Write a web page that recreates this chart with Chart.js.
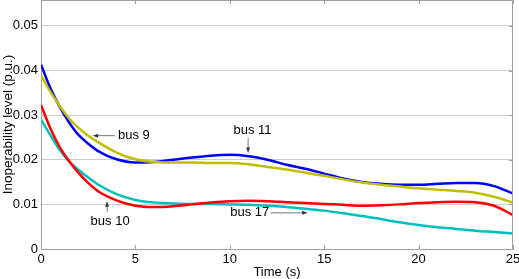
<!DOCTYPE html>
<html>
<head>
<meta charset="utf-8">
<script src="https://cdn.jsdelivr.net/npm/chart.js@4.4.1/dist/chart.umd.min.js"></script>
<style>
html,body{margin:0;padding:0;background:#fff;}
#wrap{width:519px;height:279px;position:relative;}
</style>
</head>
<body>
<div id="wrap"><canvas id="c" width="519" height="279"></canvas></div>
<script>
const time = [0, 0.5, 1, 1.5, 2, 2.5, 3, 4, 5, 6, 7, 8, 9, 10, 11, 12, 13, 14, 15, 16, 17, 18, 19, 20, 21, 22, 23, 24, 25];
const bus9  = [0.0389, 0.0352, 0.0320, 0.0292, 0.0271, 0.0254, 0.0240, 0.0216, 0.0201, 0.0195, 0.0194, 0.0194, 0.0193, 0.0193, 0.0190, 0.0184, 0.0178, 0.0171, 0.0164, 0.0156, 0.0149, 0.0144, 0.0140, 0.0136, 0.0133, 0.0130, 0.0126, 0.0117, 0.0104];
const bus11 = [0.0413, 0.0360, 0.0318, 0.0283, 0.0255, 0.0236, 0.0220, 0.0201, 0.0194, 0.0195, 0.0200, 0.0205, 0.0209, 0.0211, 0.0208, 0.0200, 0.0189, 0.0180, 0.0169, 0.0158, 0.0150, 0.0146, 0.0144, 0.0144, 0.0146, 0.0148, 0.0148, 0.0141, 0.0124];
const bus10 = [0.0323, 0.0270, 0.0228, 0.0196, 0.0170, 0.0148, 0.0130, 0.0109, 0.0097, 0.0094, 0.0096, 0.0100, 0.0104, 0.0107, 0.0108, 0.0107, 0.0105, 0.0103, 0.0101, 0.0099, 0.0097, 0.0098, 0.0100, 0.0103, 0.0105, 0.0106, 0.0105, 0.0097, 0.0076];
const bus17 = [0.0290, 0.0255, 0.0222, 0.0196, 0.0177, 0.0160, 0.0145, 0.0123, 0.0110, 0.0104, 0.0102, 0.0101, 0.0101, 0.0100, 0.0099, 0.0097, 0.0094, 0.0090, 0.0086, 0.0080, 0.0074, 0.0067, 0.0060, 0.0054, 0.0049, 0.0045, 0.0041, 0.0038, 0.0035];
const yTicks = [0, 0.01, 0.02, 0.03, 0.04, 0.05];
const yTickLabels = ["0", "0.01", "0.02", "0.03", "0.04", "0.05"];
const xTicks = [0, 5, 10, 15, 20, 25];
const xTickLabels = ["0", "5", "10", "15", "20", "25"];
const annotations = [
  {text: "bus 9",  tx: 4.08, ty: 0.0254, align: "left",   ax1: 3.92, ay1: 0.0254, ax2: 2.76, ay2: 0.0254},
  {text: "bus 11", tx: 11.2, ty: 0.0265, align: "center", ax1: 10.97, ay1: 0.0249, ax2: 10.97, ay2: 0.0216},
  {text: "bus 10", tx: 3.66, ty: 0.0061, align: "center", ax1: 3.5, ay1: 0.0083, ax2: 3.5, ay2: 0.0106},
  {text: "bus 17", tx: 11.06, ty: 0.0081, align: "center", ax1: 12.15, ay1: 0.0081, ax2: 14.1, ay2: 0.0081}
];

const FONT = "'Liberation Sans', Arial, Helvetica, sans-serif";

function mk(label, data, color) {
  return {
    label: label,
    data: time.map((t, i) => ({x: t, y: data[i]})),
    borderColor: color,
    backgroundColor: color,
    borderWidth: 2.5,
    pointRadius: 0,
    cubicInterpolationMode: 'monotone',
    fill: false
  };
}

const decor = {
  id: 'decor',
  afterDatasetsDraw(chart) {
    const ctx = chart.ctx;
    const xs = chart.scales.x, ys = chart.scales.y;
    const a = chart.chartArea;
    ctx.save();
    ctx.strokeStyle = '#a0a0a0';
    ctx.lineWidth = 1;
    ctx.beginPath();
    ctx.moveTo(a.left + 0.5, a.top + 0.5);
    ctx.lineTo(a.right - 0.5, a.top + 0.5);
    ctx.lineTo(a.right - 0.5, a.bottom);
    ctx.stroke();
    ctx.beginPath();
    xTicks.forEach(v => {
      const px = Math.round(xs.getPixelForValue(v)) + 0.5;
      ctx.moveTo(px, a.bottom); ctx.lineTo(px, a.bottom - 4);
      ctx.moveTo(px, a.top); ctx.lineTo(px, a.top + 4);
    });
    yTicks.forEach(v => {
      const py = Math.round(ys.getPixelForValue(v)) + 0.5;
      ctx.moveTo(a.right, py); ctx.lineTo(a.right - 4, py);
    });
    ctx.stroke();
    ctx.fillStyle = '#000';
    ctx.strokeStyle = '#555';
    ctx.font = "13px " + FONT;
    ctx.textBaseline = 'middle';
    annotations.forEach(an => {
      ctx.textAlign = an.align;
      ctx.fillText(an.text, xs.getPixelForValue(an.tx), ys.getPixelForValue(an.ty));
      const x1 = xs.getPixelForValue(an.ax1), y1 = ys.getPixelForValue(an.ay1);
      const x2 = xs.getPixelForValue(an.ax2), y2 = ys.getPixelForValue(an.ay2);
      ctx.lineWidth = 0.8;
      ctx.beginPath(); ctx.moveTo(x1, y1); ctx.lineTo(x2, y2); ctx.stroke();
      const ang = Math.atan2(y2 - y1, x2 - x1);
      const L = 5, W = 2;
      ctx.fillStyle = '#333';
      ctx.beginPath();
      ctx.moveTo(x2, y2);
      ctx.lineTo(x2 - L * Math.cos(ang) + W * Math.sin(ang), y2 - L * Math.sin(ang) - W * Math.cos(ang));
      ctx.lineTo(x2 - L * Math.cos(ang) - W * Math.sin(ang), y2 - L * Math.sin(ang) + W * Math.cos(ang));
      ctx.closePath(); ctx.fill();
      ctx.fillStyle = '#000';
    });
    ctx.restore();
  }
};

new Chart(document.getElementById('c'), {
  type: 'line',
  data: {
    datasets: [
      mk('bus 9', bus9, '#bfbf00'),
      mk('bus 11', bus11, '#0000ff'),
      mk('bus 10', bus10, '#ff0000'),
      mk('bus 17', bus17, '#00bfbf')
    ]
  },
  options: {
    responsive: false,
    animation: false,
    layout: {padding: {top: 0, right: 6, left: 0, bottom: 0}},
    plugins: {legend: {display: false}, tooltip: {enabled: false}},
    scales: {
      x: {
        type: 'linear', min: 0, max: 25,
        afterBuildTicks: s => { s.ticks = xTicks.map(v => ({value: v})); },
        afterFit: s => { s.height = 30; s.paddingLeft = 0; s.paddingRight = 0; },
        ticks: {
          callback: (v) => xTickLabels[xTicks.indexOf(v)],
          color: '#000', font: {family: FONT, size: 13}, padding: 3, maxRotation: 0
        },
        grid: {display: false, drawTicks: false},
        border: {display: true, color: '#a0a0a0', width: 1},
        title: {display: true, text: 'Time (s)', color: '#000', font: {family: FONT, size: 13, lineHeight: 1}, padding: {top: 0, bottom: 0}}
      },
      y: {
        type: 'linear', min: 0, max: 0.0558,
        afterBuildTicks: s => { s.ticks = yTicks.map(v => ({value: v})); },
        afterFit: s => { s.width = 41; s.paddingTop = 0; s.paddingBottom = 0; },
        ticks: {
          callback: (v) => yTickLabels[yTicks.findIndex(t => Math.abs(t - v) < 1e-9)],
          color: '#000', font: {family: FONT, size: 13}, padding: 3
        },
        grid: {display: true, color: '#cccccc', lineWidth: 1, drawTicks: false},
        border: {display: true, color: '#a0a0a0', width: 1},
        title: {display: true, text: 'Inoperability level (p.u.)', color: '#000', font: {family: FONT, size: 13.5}, padding: {top: 0, bottom: 2}}
      }
    }
  },
  plugins: [decor]
});
</script>
</body>
</html>
